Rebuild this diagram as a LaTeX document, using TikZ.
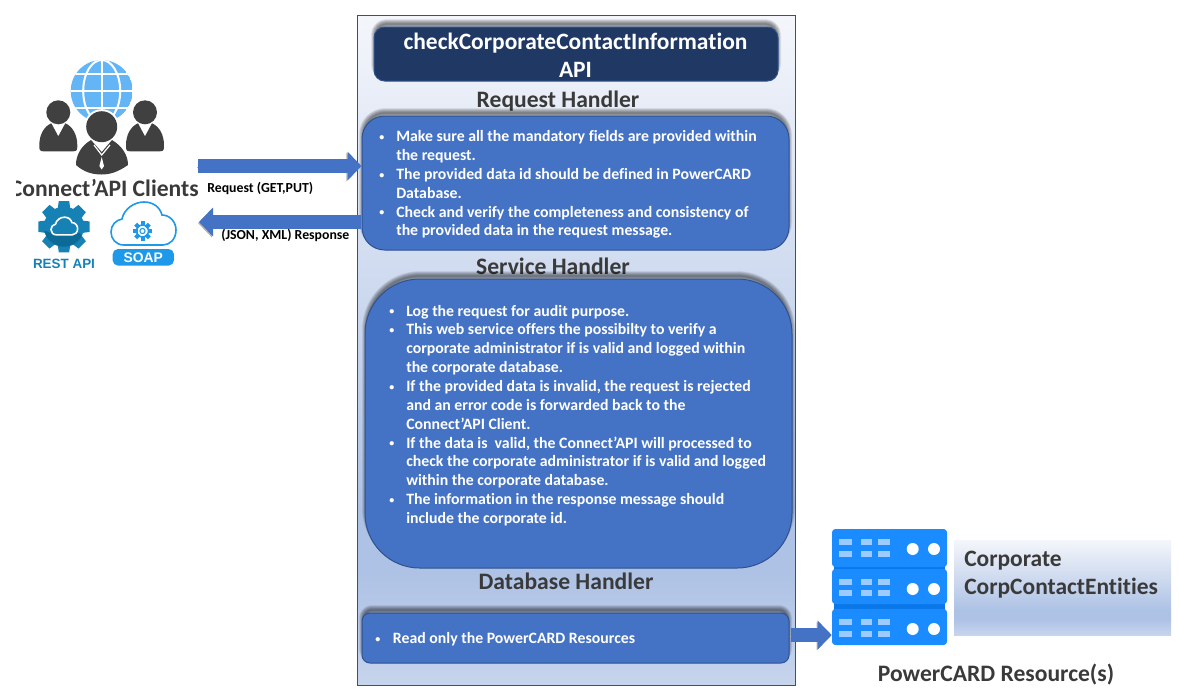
\documentclass[tikz,border=0pt]{standalone}
\usepackage{fontspec}
\setmainfont{Carlito}[BoldFont={Carlito Bold},Ligatures=NoCommon]
\newfontfamily\iconfont{Liberation Sans}
\usetikzlibrary{arrows.meta,calc}
\definecolor{boxblue}{HTML}{4472C4}
\definecolor{boxedge}{HTML}{2F528F}
\definecolor{navy}{HTML}{1F3864}
\definecolor{ink}{HTML}{3A3A3A}
\definecolor{person}{HTML}{404040}
\definecolor{globeblue}{HTML}{64B5F6}
\definecolor{srvblue}{HTML}{1A8CFF}
\definecolor{srvdark}{HTML}{0A78E8}
\definecolor{srvbar}{HTML}{9CCBFF}
\definecolor{gearblue}{HTML}{1581B5}
\definecolor{geardark}{HTML}{0C6A97}
\definecolor{soapblue}{HTML}{1E98E8}
\definecolor{gradend}{HTML}{C7D4ED}
\definecolor{gradmid}{HTML}{AEC2E5}
\definecolor{gradtop}{HTML}{F4F6FB}
\pgfdeclareverticalshading{officegrad}{100bp}{color(0bp)=(gradend);
 color(25bp)=(gradend);color(33.5bp)=(gradmid);color(38bp)=(gradmid);color(75bp)=(gradtop);color(100bp)=(gradtop)}
\tikzset{
 x=0.75pt,y=-0.75pt,
 panel/.style={draw=boxedge,line width=0.75pt,shading=officegrad,shading angle=0,anchor=center,inner sep=0pt},
 bluebox/.style={draw=boxedge,line width=0.75pt,fill=boxblue,inner sep=0pt},
 bodytext/.style={text=white,font=\fontsize{11.85pt}{14.15pt}\selectfont\bfseries,align=left,inner sep=0pt},
 headtext/.style={text=ink,font=\fontsize{17.7pt}{21pt}\selectfont\bfseries,inner sep=0pt},
 smalltext/.style={text=black,font=\fontsize{10.35pt}{12pt}\selectfont\bfseries,inner sep=0pt,anchor=west},
 blockarrow/.style={line width=11pt,draw=boxblue,-{Triangle[length=10.5pt,width=21pt]},
   preaction={draw=black!30,transform canvas={xshift=-0.8pt,yshift=-0.8pt}}},
 srvunit/.style={fill=srvblue,rounded corners=2.5pt,inner sep=0pt,minimum width=86.25pt},
 glow/.style={line join=round,draw=black,opacity=0.06},
 personpic/.pic={
   \fill[person] (0,0) circle (12);
   \fill[person] (-15,39) .. controls (-19,39) and (-19,37) .. (-19,33) .. controls (-19,22) and (-14,14) .. (-7,11) -- (0,24) -- (7,11) .. controls (14,14) and (19,22) .. (19,33) .. controls (19,37) and (19,39) .. (15,39) -- cycle;
 },
}
\newcommand{\dotmark}{\hspace*{0.9pt}\raisebox{0.9pt}{\fontsize{7.5pt}{7.5pt}\selectfont•}}
\newcommand{\bul}{\makebox[13.5pt][l]{\dotmark}}
\newcommand{\ind}{\hspace*{13.5pt}}
% soft dark halo above a box: x1,y1,x2,y2,radius(pt)
\newcommand{\softglow}[5]{\foreach \w in {1,2,...,10}{\draw[glow,line width=\w*0.75pt,rounded corners=#5] (#1+2,#2-3) rectangle (#3-2,#4-6);}}
\newcommand{\cloudpath}{(124,245) .. controls (116,245) and (111,239) .. (111,232) .. controls (111,225) and (116,220) .. (122,219) .. controls (124,209) and (134,202) .. (144,202) .. controls (153,202) and (160,207) .. (162,215) .. controls (170,215) and (176,222) .. (176,230) .. controls (176,239) and (170,245) .. (163,245) -- cycle}
\begin{document}
\begin{tikzpicture}
\useasboundingbox (0,0) rectangle (1179,694);
% main panel
\node[panel,minimum width=328.5pt,minimum height=502.5pt] (main) at (576,350.5) {};
% title
\softglow{374}{27}{778}{81}{8pt}
\node[bluebox,fill=navy,rounded corners=8pt,minimum width=303pt,minimum height=40.5pt] (title) at (576,54) {};
\node[text=white,align=center,inner sep=0pt,font=\fontsize{17.6pt}{21pt}\selectfont\bfseries] (titletext) at (575.5,55) {checkCorporateContactInformation\\API};
% handler titles
\node[headtext] (reqhead) at (558,101.5) {Request Handler};
\node[headtext] (srvhead) at (553,266) {Service Handler};
\node[headtext] (dbhead) at (566,581) {Database Handler};
% request handler
\softglow{362}{116}{789}{250}{16pt}
\node[bluebox,rounded corners=17pt,minimum width=320.25pt,minimum height=100.5pt] (reqbox) at (575.5,183) {};
\node[bodytext,anchor=west] (reqtext) at (378,184.5) {\bul Make sure all the mandatory fields are provided within\\
\ind the request.\\
\bul The provided data id should be defined in PowerCARD\\
\ind Database.\\
\bul Check and verify the completeness and consistency of\\
\ind the provided data in the request message.};
% service handler
\softglow{365}{279}{792}{568}{40pt}
\node[bluebox,rounded corners=41pt,minimum width=320.25pt,minimum height=216.75pt] (srvbox) at (578.5,423.5) {};
\node[bodytext,anchor=west] (srvtext) at (388,415.5) {\bul Log the request for audit purpose.\\
\bul This web service offers the possibilty to verify a\\
\ind corporate administrator if is valid and logged within\\
\ind the corporate database.\\
\bul If the provided data is invalid, the request is rejected\\
\ind and an error code is forwarded back to the\\
\ind Connect’API Client.\\
\bul If the data is\ \ valid, the Connect’API will processed to\\
\ind check the corporate administrator if is valid and logged\\
\ind within the corporate database.\\
\bul The information in the response message should\\
\ind include the corporate id.};
% database handler
\softglow{362}{613}{789}{663}{6pt}
\node[bluebox,rounded corners=6pt,minimum width=320.25pt,minimum height=37.5pt] (dbbox) at (575.5,638) {};
\node[bodytext,anchor=west] (dbtext) at (374,639) {\makebox[14pt][l]{\dotmark}Read only the PowerCARD Resources};
% servers
\fill[srvdark] (834,560) rectangle (945,615);
\node[srvunit,minimum height=28.5pt] (srvA) at (889.5,548) {};
\node[srvunit,minimum height=26.25pt] (srvB) at (889.5,586.5) {};
\node[srvunit,minimum height=27pt] (srvC) at (889.5,627) {};
\foreach \t/\a/\b in {529/10/22,569/10/21,609/10/22}{
  \foreach \xa/\xb in {839/852,861/872,878/890}{
    \fill[srvbar] (\xa,\t+\a) rectangle (\xb,\t+\a+5.5);
    \fill[srvbar] (\xa,\t+\b) rectangle (\xb,\t+\b+5.5);
  }
  \fill[white] (912.7,\t+20) circle (6);
  \fill[white] (934,\t+20) circle (6);
}
\node[panel,draw=none,minimum width=162.75pt,minimum height=71.25pt] (corp) at (1062.5,587.5) {};
\node[text=ink,font=\fontsize{17.6pt}{21pt}\selectfont\bfseries,align=left,anchor=west,inner sep=0pt] (corptext) at (964,575) {Corporate\\CorpContactEntities};
\node[headtext] (pcres) at (996,675) {PowerCARD Resource(s)};
% clients: globe
\begin{scope}
\clip (101.7,91) circle (31);
\fill[globeblue] (101.7,91) circle (31);
\foreach \yy in {73.5,91,108}{\draw[white,line width=1.5pt] (70,\yy) -- (134,\yy);}
\draw[white,line width=1.5pt] (101.7,55) -- (101.7,125);
\draw[white,line width=1.5pt] (101.7,91) ellipse (18.5 and 31);
\end{scope}
\pic at (58.3,112.3) {personpic};
\pic at (145,112.3) {personpic};
\fill[white] (101.7,126.7) circle (17.5);
\draw[white,line width=2pt] (76,165) .. controls (76,155) and (81,146) .. (91,140) -- (112,140) .. controls (122,146) and (128,155) .. (128,165);
\fill[person] (101.7,126.7) circle (15.5);
\fill[person] (76,165) .. controls (76,155) and (81,146) .. (91,140) -- (101.7,152) -- (112,140) .. controls (122,146) and (128,155) .. (128,165) .. controls (118,172) and (110,174.5) .. (101.7,174.5) .. controls (92,174.5) and (84,172) .. (76,165) -- cycle;
\draw[white,line width=0.9pt] (94,145) -- (101.7,155) -- (110,145);
\fill[white] (101.7,157) -- (104,166) -- (101.7,169.5) -- (99.4,166) -- cycle;
\begin{scope}
\clip (16,170) rectangle (210,205);
\node[headtext,anchor=east] (clients) at (199,188) {Connect’API Clients};
\end{scope}
% REST icon
\foreach \r in {0,45,...,315}{
  \fill[gearblue,rotate around={\r:(64,226.7)}] (58.8,201) -- (69.2,201) -- (71,214) -- (57,214) -- cycle;
}
\fill[gearblue] (64,226.7) circle (20);
\begin{scope}
\clip (64,226.7) circle (20);
\fill[geardark] (42,230) -- (52,233) -- (80,233) -- (92,255) -- (42,255) -- cycle;
\end{scope}
\begin{scope}[shift={(64.3,226)},scale=.41,shift={(-143.5,-223.5)}]
\filldraw[fill=gearblue,draw=white,line width=1.2pt] \cloudpath;
\end{scope}
\node[text=gearblue,font=\iconfont\fontsize{10.07pt}{12pt}\selectfont\bfseries,inner sep=0pt] (rest) at (64,264) {REST API};
% SOAP icon
\draw[soapblue,line width=1.2pt,fill=white] \cloudpath;
\foreach \r in {0,45,...,315}{
  \fill[soapblue,rotate around={\r:(142.5,231)}] (140.5,221.3) rectangle (144.5,226);
}
\draw[soapblue,line width=1.1pt] (142.5,231) circle (6);
\draw[soapblue,line width=0.8pt] (142.5,231) circle (2.6);
\node[fill=soapblue,rounded corners=4pt,text=white,font=\iconfont\fontsize{10.4pt}{12pt}\selectfont\bfseries,inner sep=0pt,minimum width=46pt,minimum height=12.4pt] (soap) at (143.3,257.3) {SOAP};
% connectors
\coordinate (reqstart) at (198,166);
\coordinate (respstart) at (361,222);
\coordinate (dbstart) at (791,635);
\draw[blockarrow] (reqstart) -- (reqstart -| reqbox.west);
\draw[blockarrow] (respstart) -- (respstart -| clients.east);
\draw[blockarrow] (dbstart) -- (dbstart -| srvC.west);
\node[smalltext] (reqlabel) at (207,188) {Request (GET,PUT)};
\node[smalltext] (resplabel) at (221,235) {(JSON, XML) Response};
\end{tikzpicture}
\end{document}
